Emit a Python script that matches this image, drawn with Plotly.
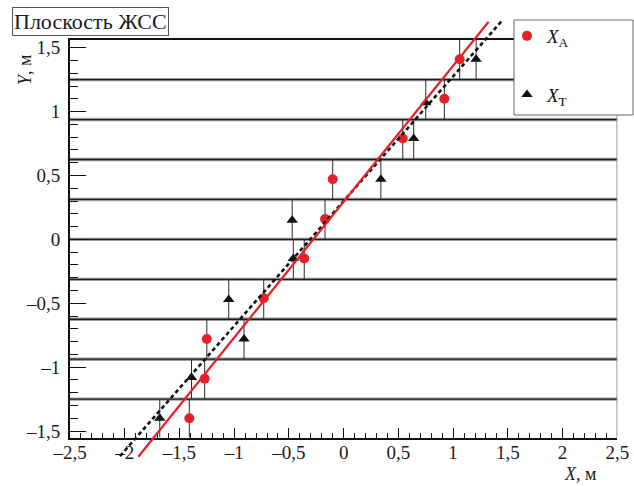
import plotly.graph_objects as go

W, H = 634, 486

# ---------------- data ----------------
xa_x = [-1.41, -1.27, -1.25, -0.73, -0.36, -0.17, -0.10, 0.54, 0.92, 1.06]
xa_y = [-1.40, -1.09, -0.78, -0.46, -0.15, 0.16, 0.47, 0.79, 1.10, 1.41]
xt_x = [-1.68, -1.39, -0.91, -1.05, -0.46, -0.47, 0.34, 0.64, 0.75, 1.21]
xt_y = [-1.40, -1.08, -0.78, -0.47, -0.15, 0.15, 0.47, 0.79, 1.07, 1.41]

planes = [-1.25, -0.9375, -0.625, -0.3125, 0.0, 0.3125, 0.625, 0.9375, 1.25]

fitA_x = [-1.876, 1.324]
fitA_y = [-1.701, 1.703]
fitT_x = [-2.043, 1.446]
fitT_y = [-1.695, 1.711]

x_ticks = [-2.5, -2, -1.5, -1, -0.5, 0, 0.5, 1, 1.5, 2, 2.5]
x_ticktext = ["–2,5", "–2", "–1,5", "–1", "–0,5", "0", "0,5", "1", "1,5", "2", "2,5"]
y_ticks = [-1.5, -1, -0.5, 0, 0.5, 1, 1.5]
y_ticktext = ["–1,5", "–1", "–0,5", "0", "0,5", "1", "1,5"]

XR = [-2.5, 2.5]
YR = [-1.55, 1.56]

# ---------------- layout geometry (pixels) ----------------
L, R, T, B = 70, 617.3, 40, 437.5
xdom = [L / W, R / W]
ydom = [1 - B / H, 1 - T / H]
u = (YR[1] - YR[0]) / (B - T)
Y2R = [YR[0] - (H - B) * u, YR[1] + T * u]

FONT = "Liberation Serif, Times New Roman, serif"
RED = "#e5202a"

fig = go.Figure()

# planes (double line look)
px, py = [], []
for p in planes:
    px += [XR[0], XR[1], None]
    py += [p, p, None]
fig.add_trace(go.Scatter(x=px, y=py, mode="lines", line=dict(color="#9c9c9c", width=3.4),
                         hoverinfo="skip", showlegend=False))
fig.add_trace(go.Scatter(x=px, y=py, mode="lines", line=dict(color="#1e1e1e", width=1.3),
                         hoverinfo="skip", showlegend=False))

# stems spanning each layer
bounds = [YR[0]] + planes + [YR[1]]
sx, sy = [], []
for xs, ys in ((xa_x, xa_y), (xt_x, xt_y)):
    for x, y in zip(xs, ys):
        lo = max(b for b in bounds if b <= y)
        hi = min(b for b in bounds if b >= y)
        sx += [x, x, None]
        sy += [lo, hi, None]
fig.add_trace(go.Scatter(x=sx, y=sy, mode="lines", line=dict(color="#2a2a2a", width=1),
                         hoverinfo="skip", showlegend=False))

fig.add_trace(go.Scatter(x=xa_x, y=xa_y, mode="markers", name="<i>X</i><sub>A</sub>",
                         marker=dict(symbol="circle", size=10, color=RED),
                         legendgroup="a"))
fig.add_trace(go.Scatter(x=xt_x, y=xt_y, mode="markers", name="<i>X</i><sub>T</sub>",
                         marker=dict(symbol="triangle-up", size=10, color="#111"),
                         legendgroup="t"))

# fit lines on an extended (invisible) axis pair with the same scale
fig.add_trace(go.Scatter(x=fitT_x, y=fitT_y, mode="lines", xaxis="x2", yaxis="y2",
                         line=dict(color="#111", width=2.6, dash="4px,3px"),
                         hoverinfo="skip", showlegend=False))
fig.add_trace(go.Scatter(x=fitA_x, y=fitA_y, mode="lines", xaxis="x2", yaxis="y2",
                         line=dict(color=RED, width=2.2),
                         hoverinfo="skip", showlegend=False))

tickfont = dict(family=FONT, size=19, color="#1a1a1a")
fig.update_layout(
    width=W, height=H,
    margin=dict(l=0, r=0, t=0, b=0, autoexpand=False),
    paper_bgcolor="white", plot_bgcolor="rgba(0,0,0,0)",
    font=dict(family=FONT),
    xaxis=dict(domain=xdom, range=XR, anchor="y", showgrid=False, zeroline=False,
               showline=True, linecolor="#111", linewidth=2, mirror=True,
               ticks="inside", ticklen=10, tickwidth=1.2, tickcolor="#111",
               tickmode="array", tickvals=x_ticks, ticktext=x_ticktext, tickfont=tickfont,
               minor=dict(tickmode="linear", tick0=0, dtick=0.1, ticks="inside",
                          ticklen=5, tickwidth=1, tickcolor="#111"),
               ticklabelstandoff=-3),
    yaxis=dict(domain=ydom, range=YR, anchor="x", showgrid=False, zeroline=False,
               showline=True, linecolor="#111", linewidth=2,
               ticks="inside", ticklen=16, tickwidth=1.2, tickcolor="#111",
               tickmode="array", tickvals=y_ticks, ticktext=y_ticktext, tickfont=tickfont,
               minor=dict(tickmode="linear", tick0=0, dtick=0.1, ticks="inside",
                          ticklen=8, tickwidth=1, tickcolor="#111"),
               ticklabelstandoff=4),
    xaxis2=dict(domain=xdom, range=XR, anchor="y2", visible=False),
    yaxis2=dict(domain=[0, 1], range=Y2R, anchor="x2", visible=False),
    legend=dict(x=507 / W, y=1 - 17 / H, xanchor="left", yanchor="top",
                bgcolor="rgba(0,0,0,0)", borderwidth=0, tracegroupgap=31,
                font=dict(family=FONT, size=19, color="#111"), itemwidth=30),
    showlegend=True,
    shapes=[
        dict(type="line", xref="x", yref="y", x0=XR[1], x1=XR[1], y0=YR[0], y1=YR[1],
             line=dict(color="#888", width=1.6)),
        dict(type="rect", xref="paper", yref="paper", x0=514 / W, x1=633 / W,
             y0=1 - 115 / H, y1=1 - 20 / H, fillcolor="white",
             line=dict(color="#666", width=1), layer="above"),
    ],
    annotations=[
        dict(text="Плоскость ЖСС", xref="paper", yref="paper", x=12 / W, y=1 - 7 / H,
             xanchor="left", yanchor="top", showarrow=False, bordercolor="#555",
             borderwidth=1, borderpad=1, font=dict(family=FONT, size=22, color="#1a1a1a")),
        dict(text="<i>Y</i>, м", xref="paper", yref="paper", x=25 / W, y=1 - 70 / H,
             xanchor="center", yanchor="middle", textangle=-90, showarrow=False,
             font=dict(family=FONT, size=18, color="#1a1a1a")),
        dict(text="<i>X</i>, м", xref="paper", yref="paper", x=580 / W, y=1 - 474 / H,
             xanchor="center", yanchor="middle", showarrow=False,
             font=dict(family=FONT, size=18, color="#1a1a1a")),
    ],
)

fig.write_html("out.html")
